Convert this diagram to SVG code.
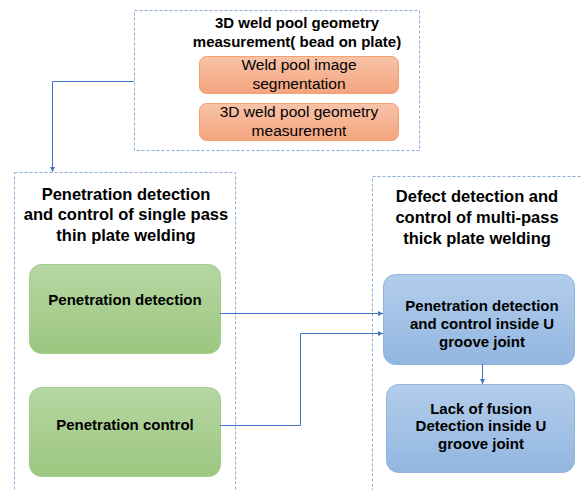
<svg xmlns="http://www.w3.org/2000/svg" width="581" height="490" viewBox="0 0 581 490">
<defs>
<linearGradient id="gO" x1="0" y1="0" x2="0" y2="1"><stop offset="0" stop-color="#f8c3a8"/><stop offset="1" stop-color="#f4a47e"/></linearGradient>
<linearGradient id="gG" x1="0" y1="0" x2="0" y2="1"><stop offset="0" stop-color="#b6d6a3"/><stop offset="1" stop-color="#9cc77f"/></linearGradient>
<linearGradient id="gB" x1="0" y1="0" x2="0" y2="1"><stop offset="0" stop-color="#b3cdeb"/><stop offset="1" stop-color="#92b6e0"/></linearGradient>
<marker id="arr" viewBox="0 0 10 10" refX="10" refY="5" markerWidth="5" markerHeight="5" orient="auto"><path d="M0,0 L10,5 L0,10 z" fill="#4472c4"/></marker>
</defs>
<style>
.grp{fill:none;stroke:#8eaadb;stroke-width:1;stroke-dasharray:3,2}
.t{font-family:"Liberation Sans",Arial,sans-serif;fill:#000;text-anchor:middle}
.b{font-weight:bold}
.con{fill:none;stroke:#4472c4;stroke-width:1;marker-end:url(#arr)}
.or{fill:url(#gO);stroke:#f4a070;stroke-width:1}
.gr{fill:url(#gG);stroke:#a3cd88;stroke-width:1}
.bl{fill:url(#gB);stroke:#8fb4e0;stroke-width:1}
</style>
<g id="group-top">
<rect class="grp" x="134.5" y="10.5" width="285" height="140"/>
<text class="t b" font-size="15" x="297" y="28">3D weld pool geometry</text>
<text class="t b" font-size="15" x="297" y="47">measurement( bead on plate)</text>
</g>
<g id="node-seg">
<rect class="or" x="199.5" y="56.5" width="199" height="37" rx="7"/>
<text class="t" font-size="15.5" x="299" y="70">Weld pool image</text>
<text class="t" font-size="15.5" x="299" y="88.5">segmentation</text>
</g>
<g id="node-geo">
<rect class="or" x="199.5" y="103.5" width="199" height="37" rx="7"/>
<text class="t" font-size="15.5" x="299" y="117">3D weld pool geometry</text>
<text class="t" font-size="15.5" x="299" y="135.5">measurement</text>
</g>
<g id="group-left">
<rect class="grp" x="14.5" y="172.5" width="221" height="330"/>
<text class="t b" font-size="16.5" x="126" y="200">Penetration detection</text>
<text class="t b" font-size="16.5" x="126" y="220">and control of single pass</text>
<text class="t b" font-size="16.5" x="126" y="241">thin plate welding</text>
</g>
<g id="node-pd">
<rect class="gr" x="29.5" y="264.5" width="191" height="89" rx="12"/>
<text class="t b" font-size="15" x="125" y="305">Penetration detection</text>
</g>
<g id="node-pc">
<rect class="gr" x="29.5" y="387.5" width="191" height="89" rx="12"/>
<text class="t b" font-size="15" x="125" y="430">Penetration control</text>
</g>
<g id="group-right">
<rect class="grp" x="372.5" y="176.5" width="220" height="330"/>
<text class="t b" font-size="16.5" x="477" y="202">Defect detection and</text>
<text class="t b" font-size="16.5" x="477" y="223">control of multi-pass</text>
<text class="t b" font-size="16.5" x="477" y="244">thick plate welding</text>
</g>
<g id="node-pu">
<rect class="bl" x="383.5" y="274.5" width="191" height="90" rx="12"/>
<text class="t b" font-size="15" x="482" y="311">Penetration detection</text>
<text class="t b" font-size="15" x="482" y="329">and control inside U</text>
<text class="t b" font-size="15" x="482" y="347">groove joint</text>
</g>
<g id="node-lf">
<rect class="bl" x="386.5" y="384.5" width="188" height="88" rx="12"/>
<text class="t b" font-size="15" x="481" y="414">Lack of fusion</text>
<text class="t b" font-size="15" x="481" y="431">Detection inside U</text>
<text class="t b" font-size="15" x="481" y="449">groove joint</text>
</g>
<g id="connectors">
<path class="con" d="M134,81.5 H52.5 V172"/>
<path class="con" d="M220,313.5 H383"/>
<path class="con" d="M220,425.5 H300.5 V333.5 H383"/>
<path class="con" d="M482.5,364 V384"/>
</g>
</svg>
